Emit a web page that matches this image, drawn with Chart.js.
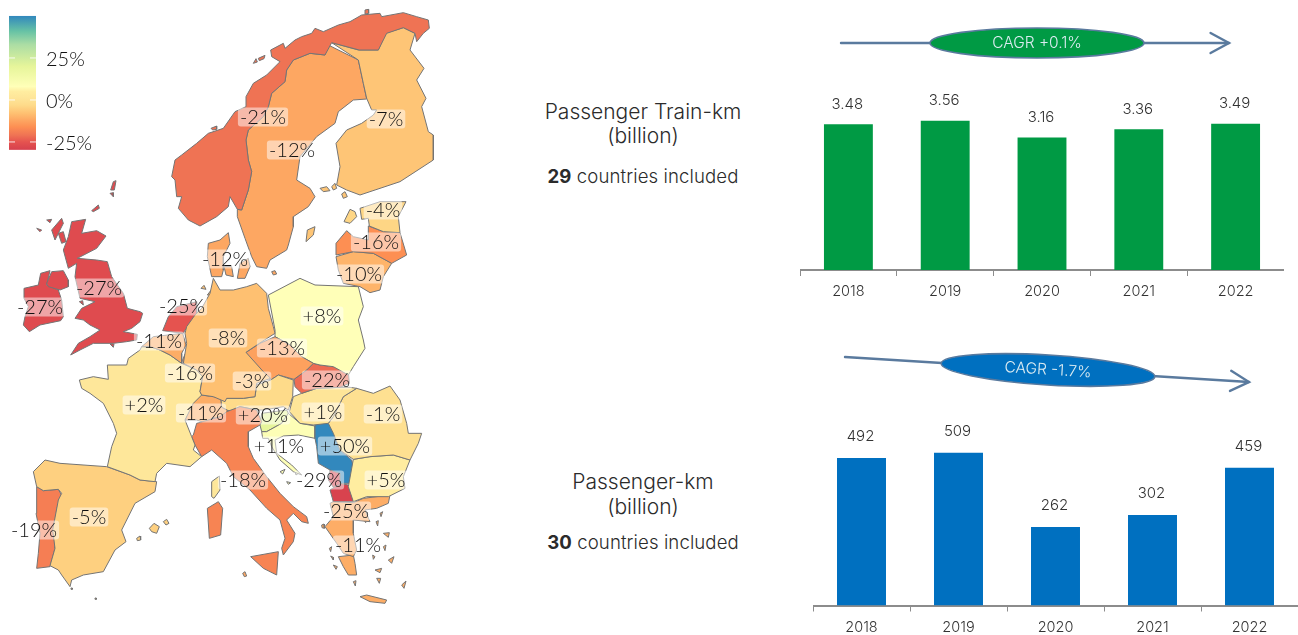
<!DOCTYPE html>
<html><head><meta charset="utf-8">
<script src="https://cdn.jsdelivr.net/npm/chart.js@4/dist/chart.umd.min.js"></script>
<style>
html,body{margin:0;padding:0;background:#fff;width:1298px;height:635px;overflow:hidden;font-family:Inter,sans-serif;color:#2b2b2b}
canvas{position:absolute;display:block}
.t{position:absolute;white-space:nowrap;transform:translate(-50%,-50%);font-weight:300}
.h{font-size:21px}.s{font-size:18.6px;letter-spacing:.1px}.s b{font-weight:700}
</style></head><body>
<canvas id="map" width="450" height="635" style="left:0;top:0"></canvas>
<canvas id="trainChart" width="484" height="310" style="left:800px;top:0"></canvas>
<canvas id="paxChart" width="485" height="300" style="left:813px;top:335px"></canvas>
<div class="t h" style="left:643px;top:111px">Passenger Train-km</div>
<div class="t h" style="left:643px;top:135px">(billion)</div>
<div class="t s" style="left:643px;top:176px"><b>29</b> countries included</div>
<div class="t h" style="left:643px;top:481px">Passenger-km</div>
<div class="t h" style="left:643px;top:506px">(billion)</div>
<div class="t s" style="left:643px;top:542px"><b>30</b> countries included</div>
<script>
// ---- bar chart data
const years = ["2018","2019","2020","2021","2022"];
const trainKm = [3.48,3.56,3.16,3.36,3.49];
const passengerKm = [492,509,262,302,459];

// ---- colour scale
const rampValues = [-29.7,-25,-21,-16,-12,-8,-3,1,5,8,20,33,41,50];
const rampColors = ["#d6404e","#e5534f","#ef7354","#fd8f53","#fda762","#fec071","#fedb8a","#fee598","#ffeda0","#ffffb8","#e6f59a","#abdda4","#66c2a5","#3288bd"];
const legendTicks = [25,0,-25];

// ---- map labels (text, map x, map y)
const labelText = ["-21%","-12%","-7%","-4%","-16%","-10%","-12%","-27%","-27%","-25%","-8%","-13%","+8%","-11%","-16%","-3%","-22%","+2%","-11%","+20%","+1%","-1%","+11%","+50%","-18%","-29%","+5%","-25%","-11%","-5%","-19%"];
const labelX = [789,876,1158,1149,1128,1077,675,297,120,546,684,846,966,477,570,756,981,432,603,789,969,1149,837,1035,729,957,1158,1038,1074,267,102];
const labelY = [351,450,357,630,726,822,777,864,921,918,1014,1044,948,1023,1119,1143,1140,1215,1239,1245,1236,1242,1338,1338,1440,1440,1440,1533,1635,1551,1590];

// ---- map outlines
const norway=[[515,530],[525,480],[545,465],[590,430],[625,400],[670,385],[705,335],[738,320],[738,290],[760,250],[800,225],[840,185],[815,170],[812,150],[850,130],[855,145],[885,120],[905,110],[935,100],[945,85],[970,95],[1015,75],[1050,65],[1085,45],[1140,40],[1145,50],[1210,38],[1250,50],[1285,60],[1288,85],[1270,100],[1250,125],[1245,100],[1210,83],[1160,100],[1135,150],[1078,150],[995,128],[975,165],[930,160],[880,180],[860,210],[855,245],[815,280],[805,320],[790,350],[745,390],[738,420],[745,480],[755,515],[745,570],[725,630],[712,628],[690,590],[685,620],[650,650],[600,678],[565,660],[535,625],[545,590],[530,590],[525,540]];
const norwayIsl1=[[760,190],[768,176],[772,186]];
const norwayIsl2=[[775,175],[795,166],[792,176],[778,182]];
const norwayIsl3=[[633,385],[650,378],[650,388],[638,390]];
const norwayIsl4=[[1095,30],[1105,28],[1106,40],[1096,42]];
const finland=[[995,128],[1075,150],[1135,150],[1155,100],[1210,83],[1245,100],[1230,150],[1272,205],[1250,240],[1278,295],[1265,320],[1285,395],[1300,405],[1300,480],[1200,545],[1080,585],[1040,570],[1010,555],[1020,500],[1008,430],[1040,390],[1085,370],[1120,345],[1130,330],[1115,330],[1100,295],[1090,250],[1075,180]];
const aland1=[[960,565],[980,560],[990,572],[970,575]];
const aland2=[[995,560],[1005,550],[1010,565],[1000,570]];
const aland3=[[1025,582],[1035,575],[1042,590],[1030,595]];
const sweden=[[985,135],[1075,180],[1090,250],[1100,297],[1060,300],[1015,335],[1005,370],[950,410],[900,470],[890,540],[930,565],[945,590],[925,620],[880,650],[880,680],[865,735],[860,750],[810,780],[800,805],[770,800],[755,770],[735,715],[712,650],[712,628],[725,630],[745,570],[755,515],[745,480],[738,420],[745,390],[790,350],[805,320],[815,280],[855,245],[860,210],[880,180],[930,160],[975,165]];
const gotland=[[918,725],[922,690],[945,680],[940,705]];
const estonia=[[1080,625],[1140,605],[1218,605],[1195,650],[1200,698],[1150,695],[1108,678],[1105,655],[1085,658]];
const saaremaa=[[1032,665],[1050,628],[1065,635],[1070,650],[1050,670]];
const latvia=[[1008,765],[1008,730],[1040,692],[1060,710],[1105,720],[1105,678],[1150,695],[1200,698],[1220,765],[1175,790],[1120,760],[1060,755]];
const lithuania=[[1008,770],[1060,755],[1120,760],[1175,790],[1150,830],[1140,870],[1110,878],[1080,860],[1030,850],[1015,810]];
const jutland=[[625,730],[660,720],[685,698],[690,730],[670,770],[670,810],[665,830],[635,830],[622,770]];
const zealand=[[712,835],[720,790],[745,775],[750,800],[735,835]];
const funen=[[672,800],[695,800],[700,830],[678,825]];
const bornholm=[[815,815],[825,812],[830,822],[820,825]];
const germany=[[640,835],[660,870],[700,870],[740,860],[770,850],[800,880],[805,925],[820,980],[825,1000],[778,1030],[738,1057],[790,1115],[812,1135],[770,1150],[765,1190],[730,1195],[680,1195],[675,1205],[640,1190],[605,1185],[600,1175],[608,1130],[590,1110],[550,1090],[560,1030],[555,1000],[560,980],[585,945],[605,925],[630,880]];
const frisian1=[[603,865],[612,856],[618,868]];
const frisian2=[[622,885],[632,872],[635,885]];
const netherlands=[[488,992],[505,950],[530,920],[590,905],[590,945],[575,970],[555,990],[550,1000],[510,995]];
const belgium=[[425,1040],[460,1010],[548,1000],[558,1035],[545,1060],[545,1090],[510,1065],[480,1050],[450,1040]];
const luxembourg=[[548,1080],[555,1062],[568,1075],[570,1095],[550,1092]];
const france=[[238,1140],[280,1130],[325,1138],[322,1095],[380,1095],[385,1075],[420,1050],[425,1040],[450,1040],[480,1050],[510,1065],[545,1090],[590,1110],[608,1130],[600,1175],[605,1185],[580,1210],[555,1260],[575,1310],[585,1335],[580,1350],[605,1370],[570,1400],[500,1390],[470,1420],[465,1445],[420,1440],[390,1425],[322,1400],[335,1340],[350,1300],[340,1270],[310,1210],[270,1180],[245,1165]];
const corsica=[[635,1445],[658,1428],[660,1470],[642,1495],[635,1490]];
const spain=[[100,1415],[135,1380],[180,1390],[320,1400],[390,1425],[420,1440],[470,1445],[465,1475],[405,1510],[365,1590],[378,1625],[345,1650],[310,1715],[250,1725],[215,1740],[210,1760],[185,1725],[175,1710],[150,1697],[165,1645],[158,1590],[175,1500],[185,1480],[175,1468],[130,1472],[110,1460]];
const portugal=[[110,1460],[130,1472],[175,1468],[187,1490],[170,1525],[165,1590],[165,1645],[150,1700],[110,1705],[115,1660],[120,1600],[108,1540]];
const mallorca=[[448,1585],[462,1570],[478,1580],[470,1600],[455,1595]];
const menorca=[[490,1565],[500,1558],[507,1570],[498,1575]];
const ibiza=[[410,1615],[420,1608],[422,1620],[412,1622]];
const speck1=[[213,1764],[217,1764],[217,1768],[213,1768]];
const speck2=[[285,1794],[289,1794],[289,1798],[285,1798]];
const italy=[[580,1305],[590,1270],[660,1250],[680,1235],[720,1220],[770,1230],[785,1265],[780,1275],[745,1295],[745,1340],[760,1375],[800,1430],[840,1480],[880,1520],[920,1550],[925,1570],[905,1565],[880,1540],[860,1560],[885,1600],[880,1625],[850,1665],[845,1645],[855,1615],[840,1560],[800,1525],[750,1470],[700,1430],[680,1390],[635,1350],[605,1370],[585,1335],[575,1310]];
const sicily=[[752,1670],[835,1655],[830,1725],[790,1705]];
const sardinia=[[622,1525],[655,1505],[668,1525],[662,1605],[628,1615]];
const malta=[[728,1720],[735,1715],[740,1728],[733,1730]];
const switzerland=[[585,1195],[605,1185],[640,1190],[662,1195],[665,1222],[690,1235],[680,1250],[650,1265],[640,1250],[620,1270],[590,1260],[555,1260],[570,1220]];
const austria=[[665,1222],[662,1195],[680,1195],[730,1195],[765,1190],[770,1155],[812,1140],[835,1125],[880,1140],[878,1190],[865,1230],[850,1220],[790,1230],[770,1230],[720,1220],[690,1235]];
const czechia=[[738,1057],[780,1030],[825,1010],[870,1035],[905,1070],[940,1090],[920,1110],[882,1138],[835,1125],[812,1140],[775,1120]];
const poland=[[805,885],[900,835],[945,855],[1075,860],[1090,920],[1075,960],[1090,1020],[1095,1045],[1060,1100],[1045,1125],[1000,1100],[960,1095],[940,1090],[905,1070],[870,1035],[825,1010],[825,990]];
const slovakia=[[882,1138],[920,1110],[940,1090],[960,1095],[1000,1100],[1045,1115],[1048,1150],[1020,1162],[950,1165],[905,1180],[885,1160]];
const hungary=[[880,1190],[905,1180],[950,1165],[1020,1162],[1050,1162],[1070,1165],[1030,1190],[1000,1250],[985,1270],[940,1275],[900,1270],[868,1235]];
const romania=[[1070,1165],[1120,1180],[1170,1158],[1200,1200],[1220,1270],[1225,1300],[1265,1300],[1255,1330],[1230,1380],[1180,1365],[1110,1370],[1060,1378],[1020,1350],[1000,1300],[985,1270],[1000,1250],[1030,1190]];
const bulgaria=[[1060,1378],[1110,1370],[1180,1365],[1230,1380],[1210,1430],[1215,1465],[1165,1490],[1100,1490],[1060,1505],[1045,1460]];
const serbia=[[945,1275],[985,1265],[1020,1310],[1020,1350],[1055,1380],[1065,1420],[1048,1450],[1020,1450],[1020,1420],[990,1410],[955,1390],[950,1340],[945,1315]];
const montenegro=[[990,1410],[1020,1420],[1022,1452],[1000,1462],[985,1440]];
const macedonia=[[990,1470],[1020,1450],[1045,1455],[1062,1475],[1060,1505],[1000,1505]];
const greeceNorth=[[990,1510],[1000,1505],[1060,1508],[1090,1495],[1170,1485],[1165,1510],[1130,1525],[1095,1530],[1110,1565],[1060,1560],[1060,1600],[1070,1650],[1060,1670],[1030,1660],[1010,1630],[975,1580],[1000,1550]];
const peloponnese=[[1015,1670],[1060,1665],[1065,1690],[1070,1725],[1045,1725],[1030,1700]];
const crete=[[1080,1790],[1100,1785],[1160,1800],[1155,1810],[1110,1805]];
const gr1=[[965,1575],[972,1572],[973,1585],[966,1583]];
const gr2=[[988,1645],[995,1640],[992,1655]];
const gr3=[[992,1668],[1000,1672],[1000,1680]];
const gr4=[[1000,1695],[1012,1700],[1008,1708]];
const gr5=[[1140,1540],[1148,1535],[1143,1550]];
const gr6=[[1128,1565],[1135,1562],[1133,1578]];
const gr7=[[1150,1600],[1168,1598],[1165,1612]];
const gr8=[[1150,1640],[1158,1635],[1155,1652]];
const gr9=[[1165,1680],[1182,1670],[1175,1690]];
const gr10=[[1125,1710],[1145,1705],[1140,1718]];
const gr11=[[1130,1735],[1142,1735],[1138,1750]];
const gr12=[[1060,1745],[1068,1742],[1066,1758]];
const gr13=[[1205,1755],[1218,1743],[1212,1765]];
const gr14=[[1118,1665],[1125,1670],[1120,1678]];
const gr15=[[1090,1555],[1100,1558],[1097,1568]];
const croatia=[[785,1295],[800,1295],[845,1270],[865,1240],[900,1270],[945,1278],[945,1315],[895,1305],[850,1308],[825,1320],[830,1360],[875,1395],[905,1425],[880,1415],[840,1380],[815,1340],[805,1315],[788,1315]];
const hr1=[[840,1415],[855,1408],[848,1422]];
const hr2=[[885,1415],[895,1420],[888,1425]];
const hr3=[[860,1445],[872,1448],[865,1453]];
const slovenia=[[780,1275],[785,1240],[860,1230],[865,1240],[845,1270],[800,1295],[785,1295]];
const britain=[[215,665],[257,658],[245,700],[290,692],[318,708],[290,745],[232,775],[290,780],[322,785],[335,830],[370,880],[382,925],[420,935],[428,940],[420,965],[395,985],[370,995],[412,1003],[410,1020],[380,1025],[340,1030],[280,1030],[240,1050],[212,1065],[235,1030],[270,1010],[300,990],[270,975],[250,960],[225,955],[245,925],[285,905],[240,895],[225,830],[230,790],[205,805],[190,750],[205,710]];
const lewis=[[155,690],[185,655],[190,670],[165,720]];
const skye=[[175,700],[190,695],[198,725],[185,730]];
const uist=[[110,685],[125,690],[120,695]];
const uk4=[[140,660],[155,658],[150,668]];
const orkney=[[275,632],[295,615],[298,625],[280,635]];
const shetland=[[332,570],[340,545],[348,542],[343,570]];
const shetland2=[[330,580],[340,578],[340,590]];
const man=[[238,905],[248,902],[250,915]];
const wight=[[330,1032],[342,1032],[340,1042]];
const nIreland=[[140,850],[155,815],[190,812],[205,840],[205,860],[180,870],[145,860]];
const ireland=[[72,865],[115,855],[122,820],[150,812],[140,855],[175,870],[185,900],[190,950],[182,962],[120,975],[88,995],[70,975],[75,950],[85,920],[72,895]];

// ---- outline -> change value used for its fill
const shapes=[
[norway,-21],[norwayIsl1,-21],[norwayIsl2,-21],[norwayIsl3,-21],[norwayIsl4,-21],
[finland,-7],[aland1,-7],[aland2,-7],[aland3,-7],
[sweden,-12],[gotland,-7],[estonia,-4],[saaremaa,-4],[latvia,-16],[lithuania,-10],
[jutland,-12],[zealand,-12],[funen,-12],[bornholm,-12],
[germany,-8],[frisian1,-8],[frisian2,-8],[netherlands,-25],[belgium,-11],[luxembourg,-16],
[france,2],[corsica,2],[spain,-5],[portugal,-19],[mallorca,-5],[menorca,-5],[ibiza,-5],[speck1,-5],[speck2,-5],
[italy,-18],[sicily,-18],[sardinia,-18],[malta,-12],
[switzerland,-11],[austria,-3],[czechia,-13],[poland,8],[slovakia,-22],[hungary,1],[romania,-1],[bulgaria,5],
[serbia,50],[montenegro,-29],[macedonia,-29],
[greeceNorth,-11],[peloponnese,-11],[crete,-11],[gr1,-11],[gr2,-11],[gr3,-11],[gr4,-11],[gr5,-11],[gr6,-11],[gr7,-11],[gr8,-11],[gr9,-11],[gr10,-11],[gr11,-11],[gr12,-11],[gr13,-11],[gr14,-11],[gr15,-11],
[croatia,9],[hr1,9],[hr2,9],[hr3,9],[slovenia,20],
[britain,-27],[lewis,-27],[skye,-27],[uist,-27],[uk4,-27],[orkney,-27],[shetland,-27],[shetland2,-27],[man,-27],[wight,-27],[nIreland,-27],[ireland,-27]
];

const FONT="Inter, sans-serif";
const MAPFONT="Lato, sans-serif";
function hex(c){return [1,3,5].map(i=>parseInt(c.substr(i,2),16));}
function colorFor(v){
  for(let i=1;i<rampValues.length;i++){
    if(v<=rampValues[i]){
      const t=Math.max(0,(v-rampValues[i-1])/(rampValues[i]-rampValues[i-1]));
      const a=hex(rampColors[i-1]),b=hex(rampColors[i]);
      return "rgb("+a.map((x,k)=>Math.round(x+(b[k]-x)*t)).join(",")+")";
    }
  }
  return rampColors[rampColors.length-1];
}

const mapOverlay={id:"mapOverlay",afterDatasetsDraw(chart){
  const {ctx,scales}=chart;const sx=scales.x,sy=scales.y,sl=scales.yLegend;
  const top=sl.getPixelForValue(50),bot=sl.getPixelForValue(-29.7);
  const x0=sx.getPixelForValue(27),x1=sx.getPixelForValue(108);
  const g=ctx.createLinearGradient(0,bot,0,top);
  rampValues.forEach((v,i)=>g.addColorStop((v+29.7)/79.7,rampColors[i]));
  ctx.save();ctx.fillStyle=g;ctx.fillRect(x0,top,x1-x0,bot-top);
  ctx.font="300 20px "+MAPFONT;ctx.textBaseline="middle";ctx.textAlign="left";
  legendTicks.forEach(v=>{
    const y=sl.getPixelForValue(v);
    ctx.fillStyle="rgba(255,255,255,.85)";
    ctx.fillRect(x0,y-.5,6,1);ctx.fillRect(x1-6,y-.5,6,1);
    ctx.fillStyle="#111";
    ctx.fillText(v+"%",x1+10,y+2);
  });
  ctx.font="300 20px "+MAPFONT;ctx.textAlign="center";
  labelText.forEach((s,i)=>{
    const x=sx.getPixelForValue(labelX[i]),y=sy.getPixelForValue(labelY[i]);
    const w=ctx.measureText(s).width+4;
    ctx.fillStyle="rgba(255,255,255,.5)";
    ctx.beginPath();ctx.roundRect(x-w/2,y-9.5,w,19,3);ctx.fill();
    ctx.fillStyle="#111";ctx.fillText(s,x,y+1);
  });
  ctx.restore();
}};

new Chart(document.getElementById("map"),{
  type:"scatter",
  data:{datasets:shapes.map(([pts,v])=>({
    data:pts.concat([pts[0]]).map(p=>({x:p[0],y:p[1]})),
    showLine:true,fill:"shape",tension:0,pointRadius:0,
    backgroundColor:colorFor(v),borderColor:"#747474",borderWidth:1
  }))},
  options:{responsive:false,animation:false,devicePixelRatio:1,
    layout:{padding:0},
    plugins:{legend:{display:false},tooltip:{enabled:false}},
    scales:{
      x:{type:"linear",display:false,min:0,max:1350},
      y:{type:"linear",display:false,reverse:true,min:0,max:1905},
      yLegend:{type:"linear",display:false,min:-318.5,max:59.5}
    }},
  plugins:[mapOverlay]
});

function barChart(id,labels,values,color,yMax,padTop,lift,cagr){
  const el=document.getElementById(id);
  const overlay={id:"overlay",afterDatasetsDraw(chart){
    const {ctx,scales}=chart;
    ctx.save();
    ctx.font="300 15px "+FONT;ctx.fillStyle="#333";ctx.textAlign="center";ctx.textBaseline="middle";
    values.forEach((v,i)=>{
      ctx.fillText(String(v),scales.x.getPixelForValue(i)-1,scales.y.getPixelForValue(v)-lift);
    });
    const [ax,ay,bx,by]=cagr.line;const ang=Math.atan2(by-ay,bx-ax);
    ctx.strokeStyle="#5a7a9e";ctx.lineWidth=2.4;ctx.lineCap="round";
    ctx.beginPath();ctx.moveTo(ax,ay);ctx.lineTo(bx,by);ctx.stroke();
    ctx.beginPath();
    ctx.moveTo(bx-21*Math.cos(ang-.5),by-21*Math.sin(ang-.5));
    ctx.lineTo(bx,by);
    ctx.lineTo(bx-21*Math.cos(ang+.5),by-21*Math.sin(ang+.5));
    ctx.stroke();
    ctx.translate(cagr.cx,cagr.cy);ctx.rotate(ang);
    ctx.beginPath();ctx.ellipse(0,0,107,15,0,0,Math.PI*2);
    ctx.fillStyle=color;ctx.fill();ctx.lineWidth=1.6;ctx.stroke();
    ctx.fillStyle="#dcecf2";ctx.font="300 15.5px "+FONT;
    ctx.fillText(cagr.text,0,0);
    ctx.restore();
  }};
  new Chart(el,{type:"bar",
    data:{labels,datasets:[{data:values,backgroundColor:color,categoryPercentage:1,barPercentage:.505}]},
    options:{responsive:false,animation:false,devicePixelRatio:1,
      layout:{padding:{top:padTop,left:0,right:0,bottom:0}},
      plugins:{legend:{display:false},tooltip:{enabled:false}},
      scales:{
        x:{grid:{drawOnChartArea:false,color:"#8c8c8c",tickLength:6,offset:true},
           border:{color:"#8c8c8c",width:2},
           ticks:{color:"#333",font:{family:FONT,size:14.5,weight:"300"},padding:7,maxRotation:0},
           afterFit(s){s.height=el.height-(padTop+210);}},
        y:{display:false,min:0,max:yMax}
      }},
    plugins:[overlay]});
}
barChart("trainChart",years,trainKm,"#009a44",5.012,60,20,{text:"CAGR +0.1%",line:[41,43,429,43],cx:237,cy:43});
barChart("paxChart",years,passengerKm,"#0070c0",700,60.5,21,{text:"CAGR -1.7%",line:[32,22,436,47],cx:235,cy:35});
</script>
</body></html>
